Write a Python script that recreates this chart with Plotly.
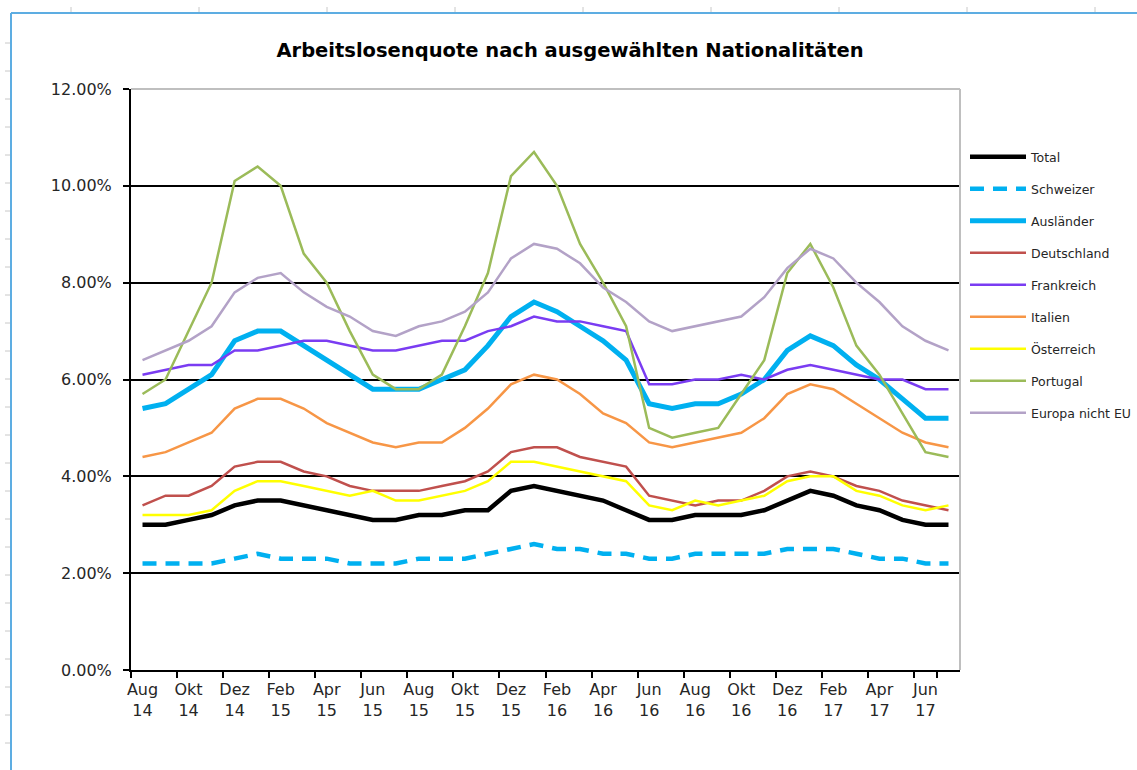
import plotly.graph_objects as go

# Monate Aug 14 - Jul 17
months = ["Aug 14", "Sep 14", "Okt 14", "Nov 14", "Dez 14", "Jan 15", "Feb 15", "Mär 15", "Apr 15",
          "Mai 15", "Jun 15", "Jul 15", "Aug 15", "Sep 15", "Okt 15", "Nov 15", "Dez 15", "Jan 16",
          "Feb 16", "Mär 16", "Apr 16", "Mai 16", "Jun 16", "Jul 16", "Aug 16", "Sep 16", "Okt 16",
          "Nov 16", "Dez 16", "Jan 17", "Feb 17", "Mär 17", "Apr 17", "Mai 17", "Jun 17", "Jul 17"]

total = [3.0, 3.0, 3.1, 3.2, 3.4, 3.5, 3.5, 3.4, 3.3, 3.2, 3.1, 3.1, 3.2, 3.2, 3.3, 3.3, 3.7, 3.8,
         3.7, 3.6, 3.5, 3.3, 3.1, 3.1, 3.2, 3.2, 3.2, 3.3, 3.5, 3.7, 3.6, 3.4, 3.3, 3.1, 3.0, 3.0]
schweizer = [2.2, 2.2, 2.2, 2.2, 2.3, 2.4, 2.3, 2.3, 2.3, 2.2, 2.2, 2.2, 2.3, 2.3, 2.3, 2.4, 2.5, 2.6,
             2.5, 2.5, 2.4, 2.4, 2.3, 2.3, 2.4, 2.4, 2.4, 2.4, 2.5, 2.5, 2.5, 2.4, 2.3, 2.3, 2.2, 2.2]
auslaender = [5.4, 5.5, 5.8, 6.1, 6.8, 7.0, 7.0, 6.7, 6.4, 6.1, 5.8, 5.8, 5.8, 6.0, 6.2, 6.7, 7.3, 7.6,
              7.4, 7.1, 6.8, 6.4, 5.5, 5.4, 5.5, 5.5, 5.7, 6.0, 6.6, 6.9, 6.7, 6.3, 6.0, 5.6, 5.2, 5.2]
deutschland = [3.4, 3.6, 3.6, 3.8, 4.2, 4.3, 4.3, 4.1, 4.0, 3.8, 3.7, 3.7, 3.7, 3.8, 3.9, 4.1, 4.5, 4.6,
               4.6, 4.4, 4.3, 4.2, 3.6, 3.5, 3.4, 3.5, 3.5, 3.7, 4.0, 4.1, 4.0, 3.8, 3.7, 3.5, 3.4, 3.3]
frankreich = [6.1, 6.2, 6.3, 6.3, 6.6, 6.6, 6.7, 6.8, 6.8, 6.7, 6.6, 6.6, 6.7, 6.8, 6.8, 7.0, 7.1, 7.3,
              7.2, 7.2, 7.1, 7.0, 5.9, 5.9, 6.0, 6.0, 6.1, 6.0, 6.2, 6.3, 6.2, 6.1, 6.0, 6.0, 5.8, 5.8]
italien = [4.4, 4.5, 4.7, 4.9, 5.4, 5.6, 5.6, 5.4, 5.1, 4.9, 4.7, 4.6, 4.7, 4.7, 5.0, 5.4, 5.9, 6.1,
           6.0, 5.7, 5.3, 5.1, 4.7, 4.6, 4.7, 4.8, 4.9, 5.2, 5.7, 5.9, 5.8, 5.5, 5.2, 4.9, 4.7, 4.6]
oesterreich = [3.2, 3.2, 3.2, 3.3, 3.7, 3.9, 3.9, 3.8, 3.7, 3.6, 3.7, 3.5, 3.5, 3.6, 3.7, 3.9, 4.3, 4.3,
               4.2, 4.1, 4.0, 3.9, 3.4, 3.3, 3.5, 3.4, 3.5, 3.6, 3.9, 4.0, 4.0, 3.7, 3.6, 3.4, 3.3, 3.4]
portugal = [5.7, 6.0, 7.0, 8.0, 10.1, 10.4, 10.0, 8.6, 8.0, 7.0, 6.1, 5.8, 5.8, 6.1, 7.1, 8.2, 10.2, 10.7,
            10.0, 8.8, 8.0, 7.1, 5.0, 4.8, 4.9, 5.0, 5.7, 6.4, 8.2, 8.8, 7.9, 6.7, 6.1, 5.3, 4.5, 4.4]
europa = [6.4, 6.6, 6.8, 7.1, 7.8, 8.1, 8.2, 7.8, 7.5, 7.3, 7.0, 6.9, 7.1, 7.2, 7.4, 7.8, 8.5, 8.8,
          8.7, 8.4, 7.9, 7.6, 7.2, 7.0, 7.1, 7.2, 7.3, 7.7, 8.3, 8.7, 8.5, 8.0, 7.6, 7.1, 6.8, 6.6]

y_ticks = [0, 2, 4, 6, 8, 10, 12]

series = [
    ("Total", total, "#000000", 4.5, "solid"),
    ("Schweizer", schweizer, "#00B0F0", 4.5, "14px,9px"),
    ("Ausländer", auslaender, "#00B0F0", 5, "solid"),
    ("Deutschland", deutschland, "#C0504D", 2.5, "solid"),
    ("Frankreich", frankreich, "#7A3CF2", 2.5, "solid"),
    ("Italien", italien, "#F79646", 2.5, "solid"),
    ("Österreich", oesterreich, "#FFFF00", 2.5, "solid"),
    ("Portugal", portugal, "#9BBB59", 2.5, "solid"),
    ("Europa nicht EU", europa, "#B3A2C7", 2.5, "solid"),
]

# plot area in pixels
W, H = 1137, 770
L, R, T, B = 131, 960, 89, 670


def px(x):
    return (x - L) / (R - L)


def py(y):
    return (B - y) / (B - T)


fig = go.Figure()
legends = {}
for k, (name, vals, color, width, dash) in enumerate(series):
    lg = "legend" if k == 0 else f"legend{k + 1}"
    fig.add_trace(go.Scatter(x=months, y=vals, name=name, mode="lines", legend=lg,
                             line=dict(color=color, width=width, dash=dash)))
    legends[lg] = dict(x=px(965), xanchor="left", y=py(157 + 32 * k), yanchor="middle",
                       bgcolor="rgba(0,0,0,0)", itemwidth=56,
                       font=dict(family="DejaVu Sans", size=12.5, color="#262626"))

shapes = [
    # plot border top/right in grey
    dict(type="line", xref="paper", yref="paper", x0=0, x1=1, y0=1, y1=1,
         line=dict(color="#BFBFBF", width=2), layer="above"),
    dict(type="line", xref="paper", yref="paper", x0=1, x1=1, y0=0, y1=1,
         line=dict(color="#BFBFBF", width=2), layer="above"),
    # outer blue frame
    dict(type="line", xref="paper", yref="paper", x0=px(11), x1=px(W), y0=py(13), y1=py(13),
         line=dict(color="#5DADE2", width=2)),
    dict(type="line", xref="paper", yref="paper", x0=px(11), x1=px(11), y0=py(13), y1=py(H),
         line=dict(color="#5DADE2", width=2)),
]
for xt in range(71, W, 128):
    shapes.append(dict(type="line", xref="paper", yref="paper", x0=px(xt), x1=px(xt),
                       y0=py(7), y1=py(12), line=dict(color="#C8C8C8", width=1)))
for yt in range(43, H, 28):
    shapes.append(dict(type="line", xref="paper", yref="paper", x0=px(5), x1=px(10),
                       y0=py(yt), y1=py(yt), line=dict(color="#C8C8C8", width=1)))

fig.update_layout(
    width=W, height=H,
    margin=dict(l=L, r=W - R, t=T, b=H - B, autoexpand=False),
    paper_bgcolor="white", plot_bgcolor="white",
    showlegend=True,
    title=dict(text="<b>Arbeitslosenquote nach ausgewählten Nationalitäten</b>",
               x=570 / W, xanchor="center", y=1 - 50 / H, yanchor="middle",
               font=dict(family="DejaVu Sans", size=19.5, color="#000000")),
    shapes=shapes,
    **legends,
)

fig.update_xaxes(
    type="category", range=[-0.5, len(months) - 0.5],
    tickmode="array", tickvals=months[::2],
    ticktext=[m.replace(" ", "<br>") for m in months[::2]],
    tickson="boundaries", ticks="outside", ticklen=6, tickcolor="#000000", tickwidth=1.5,
    tickangle=0, ticklabelstandoff=4,
    showline=True, linecolor="#000000", linewidth=2,
    showgrid=False,
    tickfont=dict(family="DejaVu Sans", size=16, color="#262626"),
)
fig.update_yaxes(
    range=[0, 12], tickvals=y_ticks, ticktext=[f"{v:.2f}%" for v in y_ticks],
    ticks="outside", ticklen=6, tickcolor="#000000", tickwidth=1.5,
    ticklabelstandoff=8,
    showline=True, linecolor="#000000", linewidth=2,
    showgrid=True, gridcolor="#000000", gridwidth=1.5, zeroline=False,
    tickfont=dict(family="DejaVu Sans", size=16, color="#262626"),
)

fig.write_html("out.html", config={"displayModeBar": False},
               post_script="document.body.style.margin='0px';")
